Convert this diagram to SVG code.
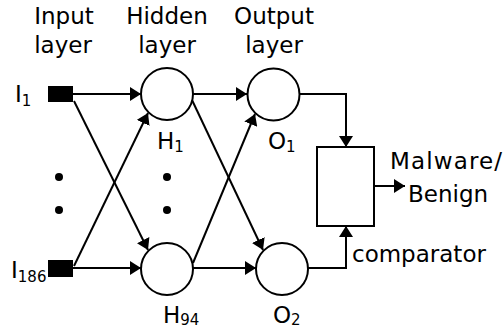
<svg xmlns="http://www.w3.org/2000/svg" width="504" height="331" viewBox="0 0 504 331">
<defs>
<style>
text{font-family:"DejaVu Sans",sans-serif;font-size:23px;fill:#000}
.s{font-size:15px}
.n{fill:#fff;stroke:#000;stroke-width:2}
.c{fill:none;stroke:#000;stroke-width:2}
</style>
<marker id="a" markerWidth="11" markerHeight="14" refX="11" refY="7" orient="auto" markerUnits="userSpaceOnUse"><path d="M0,0 L11,7 L0,14 z" fill="#000"/></marker>
</defs>
<rect width="504" height="331" fill="#fff"/>
<g id="labels">
<text x="64" y="24" text-anchor="middle">Input</text>
<text x="63" y="53" text-anchor="middle">layer</text>
<text x="167" y="24" text-anchor="middle">Hidden</text>
<text x="167" y="53" text-anchor="middle">layer</text>
<text x="274" y="24" text-anchor="middle">Output</text>
<text x="274" y="53" text-anchor="middle">layer</text>
</g>
<g id="connectors">
<line class="c" x1="73" y1="94" x2="141" y2="94" marker-end="url(#a)"/>
<line class="c" x1="73" y1="268" x2="141" y2="268" marker-end="url(#a)"/>
<line class="c" x1="74" y1="101" x2="148" y2="250" marker-end="url(#a)"/>
<line class="c" x1="74" y1="266" x2="148" y2="113" marker-end="url(#a)"/>
<line class="c" x1="193" y1="94" x2="247" y2="94" marker-end="url(#a)"/>
<line class="c" x1="193" y1="268" x2="256" y2="268" marker-end="url(#a)"/>
<line class="c" x1="192" y1="100" x2="263" y2="250" marker-end="url(#a)"/>
<line class="c" x1="193" y1="263" x2="255" y2="114" marker-end="url(#a)"/>
<polyline class="c" points="300,94 346,94 346,147" marker-end="url(#a)"/>
<polyline class="c" points="308,268 346,268 346,226" marker-end="url(#a)"/>
<line class="c" x1="374" y1="186" x2="405" y2="186" marker-end="url(#a)"/>
</g>
<g id="I1">
<rect x="48" y="86" width="25" height="16" fill="#000"/>
<text x="15" y="102">I<tspan class="s" dy="4">1</tspan></text>
</g>
<g id="I186">
<rect x="48" y="260" width="25" height="17" fill="#000"/>
<text x="11" y="278">I<tspan class="s" dy="4">186</tspan></text>
</g>
<g id="dots">
<circle cx="59" cy="177" r="4"/>
<circle cx="59" cy="210" r="4"/>
<circle cx="167" cy="177" r="4"/>
<circle cx="167" cy="210" r="4"/>
</g>
<g id="H1">
<circle class="n" cx="167" cy="94" r="26"/>
<text x="157" y="149">H<tspan class="s" dy="3">1</tspan></text>
</g>
<g id="H94">
<circle class="n" cx="167" cy="269" r="26"/>
<text x="163" y="323">H<tspan class="s" dy="2">94</tspan></text>
</g>
<g id="O1">
<circle class="n" cx="273.5" cy="94.5" r="26"/>
<text x="268" y="149">O<tspan class="s" dy="3">1</tspan></text>
</g>
<g id="O2">
<circle class="n" cx="282" cy="269" r="26"/>
<text x="273" y="323">O<tspan class="s" dy="2">2</tspan></text>
</g>
<g id="comparator">
<rect class="c" x="317" y="147" width="57" height="79"/>
<text x="352" y="262">comparator</text>
</g>
<g id="output">
<text x="390" y="169" textLength="112">Malware/</text>
<text x="408" y="202">Benign</text>
</g>
</svg>
